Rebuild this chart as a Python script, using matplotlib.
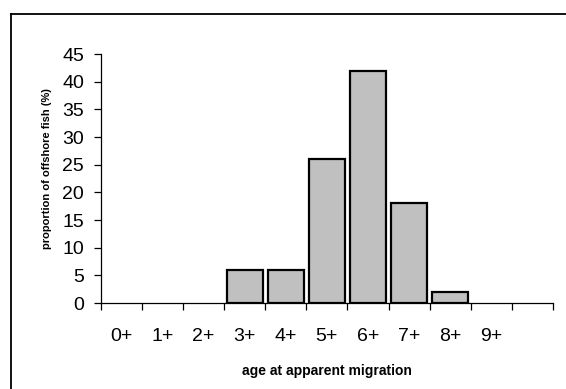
import numpy as np
import matplotlib
matplotlib.use('Agg')
import matplotlib.pyplot as plt
from matplotlib.lines import Line2D

ages = ['0+', '1+', '2+', '3+', '4+', '5+', '6+', '7+', '8+', '9+']
proportion = [0, 0, 0, 6, 6, 26, 42, 18, 2, 0]

plt.rcParams['font.family'] = ['Liberation Sans', 'DejaVu Sans']

fig = plt.figure(figsize=(5.66, 3.89), dpi=100)
ax = fig.add_axes([0.178, 0.221, 0.799, 0.640])

x = np.arange(len(ages))
# empty classes get no outline
lw = [1.6 if v > 0 else 0 for v in proportion]
ax.bar(x, proportion, width=0.88, color='#c0c0c0', edgecolor='black', linewidth=lw, zorder=3)

# one empty slot after 9+
ax.set_xlim(-0.5, len(ages) + 0.5)
ax.set_ylim(0, 45)
ax.set_yticks(range(0, 46, 5))
ax.set_xticks(np.arange(-0.5, len(ages) + 1, 1))
ax.set_xticklabels([])
ax.set_xticks(x, minor=True)
ax.set_xticklabels(ages, minor=True)
ax.tick_params(axis='x', which='major', direction='out', length=5, width=0.9)
ax.tick_params(axis='x', which='minor', length=0, pad=18, labelsize=14)
ax.tick_params(axis='y', direction='out', length=5, width=0.9, pad=7, labelsize=14)

for s in ['top', 'right']:
    ax.spines[s].set_visible(False)
for s in ['left', 'bottom']:
    ax.spines[s].set_linewidth(0.9)

ax.set_xlabel('age at apparent migration', fontsize=10, fontweight='bold')
ax.xaxis.set_label_coords(0.5, -0.245)
ax.set_ylabel('proportion of offshore fish (%)', fontsize=8, fontweight='bold')
ax.yaxis.set_label_coords(-0.108, 0.54)

# chart frame (only top and left edges fall inside the image)
fig.add_artist(Line2D([11 / 566, 1.0], [1 - 14 / 389, 1 - 14 / 389], color='black', linewidth=1.3))
fig.add_artist(Line2D([11 / 566, 11 / 566], [0.0, 1 - 14 / 389], color='black', linewidth=1.3))

plt.savefig('out.png', dpi=100)
